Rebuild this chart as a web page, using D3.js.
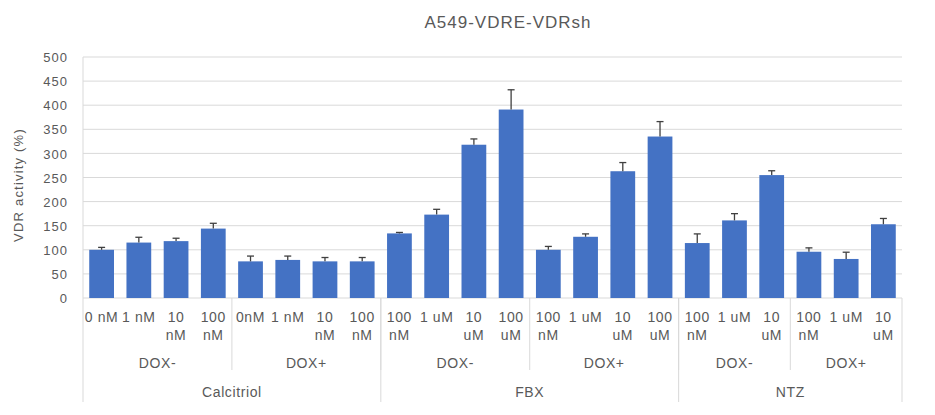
<!DOCTYPE html>
<html>
<head>
<meta charset="utf-8">
<script src="https://cdn.jsdelivr.net/npm/d3@7/dist/d3.min.js"></script>
<style>
  body { margin: 0; background: #fff; }
  svg { display: block; font-family: "Liberation Sans", Arial, sans-serif; }
</style>
</head>
<body>
<svg id="chart" width="935" height="415"></svg>
<script>
// ---- data ----
const concentrations = ["0 nM","1 nM","10 nM","100 nM","0nM","1 nM","10 nM","100 nM",
  "100 nM","1 uM","10 uM","100 uM","100 nM","1 uM","10 uM","100 uM",
  "100 nM","1 uM","10 uM","100 nM","1 uM","10 uM"];
const values = [100,115,118,144,76,79,76,76, 134,173,318,391,100,127,263,335, 114,161,255,96,81,153];
const errors = [5,11,6,11,11,8,8,8, 2,11,12,41,7,6,18,31, 19,14,9,8,14,12];
const doxLabels = ["DOX-","DOX+","DOX-","DOX+","DOX-","DOX+"];
const doxCounts = [4,4,4,4,3,3];
const drugLabels = ["Calcitriol","FBX","NTZ"];
const drugCounts = [8,8,6];
const yTicks = [0,50,100,150,200,250,300,350,400,450,500];
const chartTitle = "A549-VDRE-VDRsh";
const yTitle = "VDR activity (%)";

// ---- layout ----
const svg = d3.select("#chart");
const pLeft = 83, pRight = 902, pTop = 57, pBottom = 298;
const textColor = "#595959", gridColor = "#d9d9d9", barColor = "#4472c4";

const x = d3.scaleBand().domain(d3.range(values.length)).range([pLeft, pRight])
  .paddingInner(0.335).paddingOuter(0.1675);
const y = d3.scaleLinear().domain([0, 500]).range([pBottom, pTop]);
const step = x.step();

// gridlines
svg.append("g").selectAll("line").data(yTicks).join("line")
  .attr("x1", pLeft).attr("x2", pRight)
  .attr("y1", d => y(d)).attr("y2", d => y(d))
  .attr("stroke", gridColor).attr("stroke-width", 1);

// y tick labels
const yAxis = d3.axisLeft(y).tickValues(yTicks).tickSize(0).tickPadding(15);
const gy = svg.append("g").attr("transform", `translate(${pLeft},0)`).call(yAxis);
gy.select(".domain").remove();
gy.selectAll("text").attr("fill", textColor).style("font-size", "13px")
  .style("letter-spacing", "1px").attr("dy", "0.36em")
  .style("font-family", "'Liberation Sans', Arial, sans-serif");

// left vertical line
svg.append("line").attr("x1", pLeft).attr("x2", pLeft).attr("y1", pTop).attr("y2", 402)
  .attr("stroke", gridColor);

// bars
svg.append("g").selectAll("rect").data(values).join("rect")
  .attr("x", (d, i) => x(i)).attr("width", x.bandwidth())
  .attr("y", d => y(d)).attr("height", d => y(0) - y(d))
  .attr("fill", barColor);

// error bars (plus only)
const eg = svg.append("g").attr("stroke", "#404040").attr("stroke-width", 1.3);
values.forEach((v, i) => {
  const cx = x(i) + x.bandwidth() / 2;
  eg.append("line").attr("x1", cx).attr("x2", cx).attr("y1", y(v)).attr("y2", y(v + errors[i]));
  eg.append("line").attr("x1", cx - 3.5).attr("x2", cx + 3.5).attr("y1", y(v + errors[i])).attr("y2", y(v + errors[i]));
});

// category axis: level 1 labels
const catG = svg.append("g").attr("fill", textColor).style("font-size", "14px").style("letter-spacing", "0.6px");
concentrations.forEach((c, i) => {
  const cx = x(i) + x.bandwidth() / 2;
  const t = catG.append("text").attr("text-anchor", "middle").attr("x", cx).attr("y", 322).text(c);
  if (t.node().getComputedTextLength() > step - 2) {
    const parts = c.split(" ");
    t.text(parts[0]);
    catG.append("text").attr("text-anchor", "middle").attr("x", cx).attr("y", 340).text(parts.slice(1).join(" "));
  }
});

// level 2 (DOX) labels and separators
let idx = 0;
const sepG = svg.append("g").attr("stroke", gridColor);
doxLabels.forEach((lab, k) => {
  const x0 = pLeft + idx * step, x1 = pLeft + (idx + doxCounts[k]) * step;
  catG.append("text").attr("text-anchor", "middle").attr("x", (x0 + x1) / 2).attr("y", 368).text(lab);
  if (idx > 0) sepG.append("line").attr("x1", x0).attr("x2", x0).attr("y1", pBottom).attr("y2", 370);
  idx += doxCounts[k];
});

// level 3 (drug) labels and separators
idx = 0;
drugLabels.forEach((lab, k) => {
  const x0 = pLeft + idx * step, x1 = pLeft + (idx + drugCounts[k]) * step;
  catG.append("text").attr("text-anchor", "middle").attr("x", (x0 + x1) / 2).attr("y", 397).text(lab);
  if (idx > 0) sepG.append("line").attr("x1", x0).attr("x2", x0).attr("y1", pBottom).attr("y2", 402);
  idx += drugCounts[k];
});
sepG.append("line").attr("x1", pRight).attr("x2", pRight).attr("y1", pBottom).attr("y2", 402);

// title
svg.append("text").attr("x", 508).attr("y", 28).attr("text-anchor", "middle")
  .attr("fill", textColor).style("font-size", "17px").style("letter-spacing", "1px").text(chartTitle);

// y title
svg.append("text").attr("transform", "translate(23,185) rotate(-90)").attr("text-anchor", "middle")
  .attr("fill", textColor).style("font-size", "13px").style("letter-spacing", "1.2px").text(yTitle);
</script>
</body>
</html>
